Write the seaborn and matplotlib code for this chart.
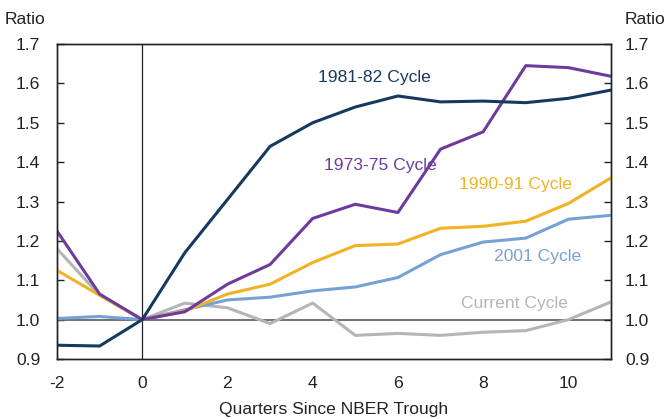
import numpy as np
import pandas as pd
import matplotlib
matplotlib.use("Agg")
import matplotlib.pyplot as plt
import seaborn as sns

quarters = list(range(-2, 12))
c1981 = [0.935, 0.933, 1.0, 1.17, 1.305, 1.44, 1.50, 1.54, 1.568, 1.553, 1.555, 1.551, 1.562, 1.583]
c1973 = [1.225, 1.065, 1.0, 1.02, 1.09, 1.14, 1.257, 1.293, 1.272, 1.433, 1.477, 1.645, 1.64, 1.618]
c1990 = [1.125, 1.062, 1.0, 1.022, 1.065, 1.09, 1.145, 1.188, 1.192, 1.232, 1.237, 1.25, 1.295, 1.36]
c2001 = [1.003, 1.008, 1.0, 1.025, 1.05, 1.057, 1.073, 1.083, 1.107, 1.165, 1.197, 1.207, 1.255, 1.265]
current = [1.18, 1.062, 1.0, 1.042, 1.03, 0.99, 1.042, 0.96, 0.965, 0.96, 0.968, 0.972, 1.0, 1.045]

series_names = ["Current Cycle", "2001 Cycle", "1990-91 Cycle", "1973-75 Cycle", "1981-82 Cycle"]
series_vals = [current, c2001, c1990, c1973, c1981]
colors = {"Current Cycle": "#b5b5b5", "2001 Cycle": "#76a1d6", "1990-91 Cycle": "#f0b323",
          "1973-75 Cycle": "#6f3a9e", "1981-82 Cycle": "#16395e"}
label_pos = {"1981-82 Cycle": (5.46, 1.616), "1973-75 Cycle": (5.58, 1.392),
             "1990-91 Cycle": (8.77, 1.344), "2001 Cycle": (9.27, 1.161),
             "Current Cycle": (8.73, 1.040)}

df = pd.DataFrame({
    "Quarter": np.tile(quarters, len(series_names)),
    "Ratio": np.concatenate(series_vals),
    "Series": np.repeat(series_names, len(quarters)),
})

sns.set_style("white")
plt.rcParams["font.family"] = ["Liberation Sans", "DejaVu Sans"]
plt.rcParams["axes.unicode_minus"] = False

FS = 12.6
fig = plt.figure(figsize=(6.66, 4.19), dpi=100)
ax = fig.add_axes([57/666, 1-359/419, (611-57)/666, (359-44)/419])

ax.axhline(1.0, color="#666666", lw=1.3, zorder=1)
ax.axvline(0, color="#222222", lw=0.9, zorder=1)

sns.lineplot(data=df, x="Quarter", y="Ratio", hue="Series", hue_order=series_names,
             palette=colors, lw=2.2, legend=False, ax=ax, zorder=3)

for name, (lx, ly) in label_pos.items():
    ax.text(lx, ly, name, color=colors[name], fontsize=FS, ha="center", va="center")

ax.set_xlim(-2, 11)
ax.set_ylim(0.9, 1.7)
ax.set_xticks([-2, 0, 2, 4, 6, 8, 10])
ax.set_yticks(np.arange(0.9, 1.71, 0.1))
ax.set_yticklabels([f"{v:.1f}" for v in np.arange(0.9, 1.71, 0.1)])
ax.set_xlabel("Quarters Since NBER Trough", fontsize=FS, color="#222222", labelpad=8)
ax.set_ylabel("")
ax.tick_params(axis="both", direction="in", length=5, width=1, labelsize=FS,
               colors="#222222")
ax.tick_params(axis="x", pad=12)
ax.tick_params(axis="y", pad=12)
for s in ax.spines.values():
    s.set_color("#222222")
    s.set_linewidth(1.0)

ax2 = ax.twinx()
ax2.set_ylim(0.9, 1.7)
ax2.set_yticks(np.arange(0.9, 1.71, 0.1))
ax2.set_yticklabels([f"{v:.1f}" for v in np.arange(0.9, 1.71, 0.1)])
ax2.tick_params(axis="y", direction="in", length=5, width=1, labelsize=FS,
                colors="#222222", pad=10)
for s in ax2.spines.values():
    s.set_color("#222222")
    s.set_linewidth(1.0)

fig.text(5/666, 1-19/419, "Ratio", fontsize=FS, color="#222222", ha="left", va="center")
fig.text(665/666, 1-19/419, "Ratio", fontsize=FS, color="#222222", ha="right", va="center")

fig.savefig("out.png", dpi=100)
